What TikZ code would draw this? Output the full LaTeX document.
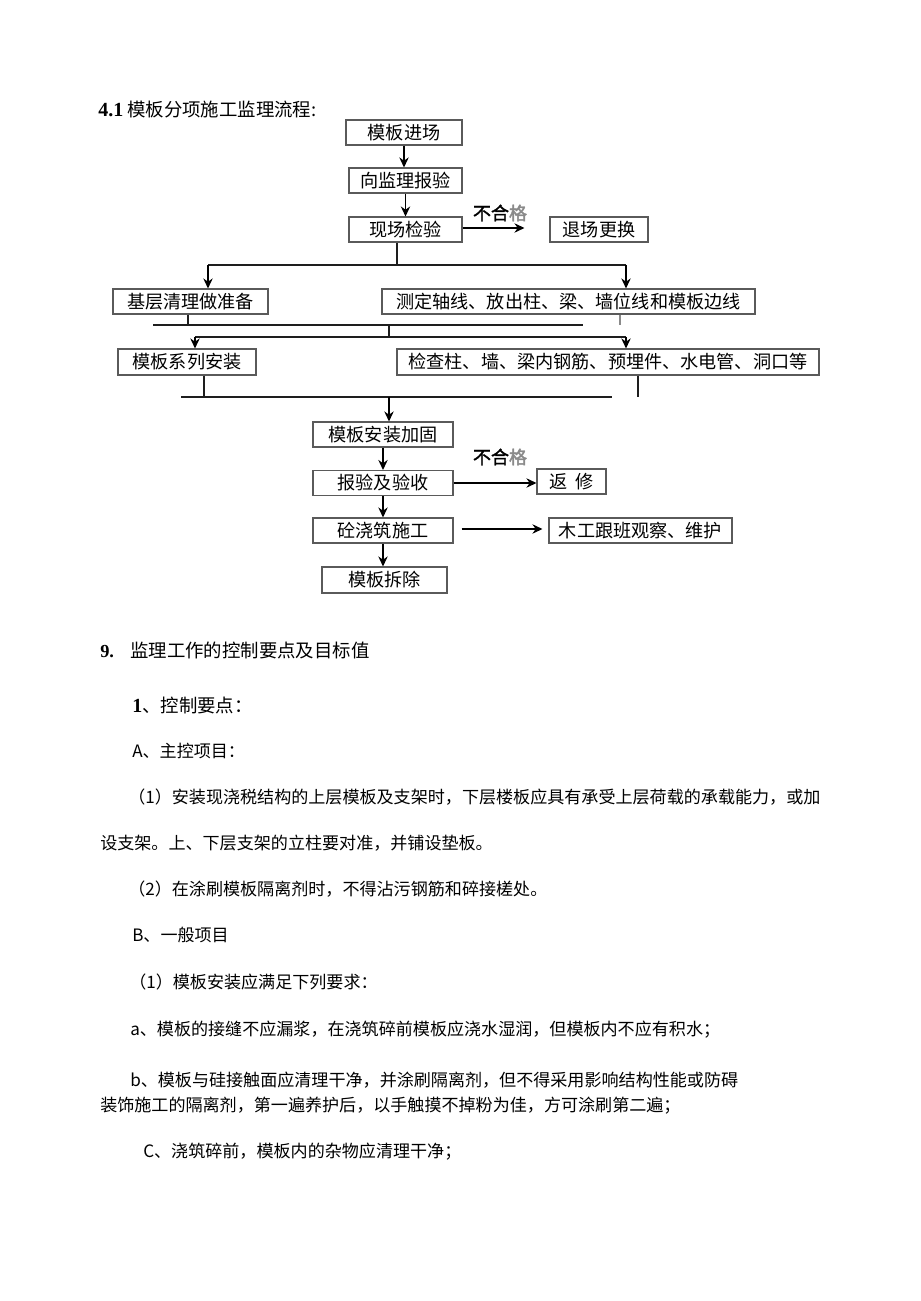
\documentclass[tikz,border=0pt]{standalone}
\usepackage{fontspec}
\setmainfont{Liberation Serif}
\newfontfamily\cjk{Noto Sans CJK SC}
\newfontfamily\cjkb[FakeBold=2]{Noto Sans CJK SC}
\usetikzlibrary{arrows.meta}
\definecolor{B1}{HTML}{5a5a5a}
\definecolor{L1}{HTML}{1e1e1e}
\definecolor{G1}{HTML}{8a8a8a}

\begin{document}
\begin{tikzpicture}[
	x = 0.75pt, y = -0.75pt,
	fbox/.style = {draw=B1, rectangle, align=center, inner sep=0pt, line width=0.8pt, minimum height=18.75pt, font=\cjk\fontsize{13.6}{16}\selectfont},
	line/.style = {draw=L1, line width=1.3pt},
	fail/.style = {inner sep=0pt, font=\cjkb\fontsize{13.5}{16}\selectfont},
	txt/.style = {anchor=west, inner sep=0pt, font=\cjk\fontsize{12.8}{15}\selectfont},
	head/.style = {anchor=west, inner sep=0pt, font=\cjk\fontsize{13.8}{16}\selectfont},
  every edge/.style={draw=black, -{Stealth[length=7.5pt, width=7pt]}, line width=1.4pt}
]
  \fill[white] (0, 0) rectangle (920, 1301);
  \useasboundingbox (0, 0) rectangle (920, 1301);

  % Define vertices
  \node[fbox, minimum width=87pt] at (404, 132.5) (jc) {模板进场};
  \node[fbox, minimum width=84.75pt] at (405.5, 180.5) (bj) {向监理报验};
  \node[fbox, minimum width=84.75pt] at (405.5, 229.5) (xc) {现场检验};
  \node[fbox, minimum width=73.5pt] at (599, 229.5) (tc) {退场更换};
  \node[fbox, minimum width=116.25pt] at (190.5, 301.5) (jq) {基层清理做准备};
  \node[fbox, minimum width=279.75pt] at (568.5, 301.5) (cd) {测定轴线、放出柱、梁、墙位线和模板边线};
  \node[fbox, minimum width=103.5pt, minimum height=19.5pt] at (187, 362) (az) {模板系列安装};
  \node[fbox, minimum width=316.5pt, minimum height=19.5pt] at (608, 362) (jcz) {检查柱、墙、梁内钢筋、预埋件、水电管、洞口等};
  \node[fbox, minimum width=105pt] at (383, 434.5) (jg) {模板安装加固};
  \node[fbox, minimum width=105pt] at (383, 483) (ys) {报验及验收};
  \node[fbox, minimum width=51.75pt] at (571.5, 481.5) (fx) {返\ \ 修};
  \node[fbox, minimum width=105pt] at (383, 530.5) (jz) {砼浇筑施工};
  \node[fbox, minimum width=137.25pt] at (640.5, 530.5) (mg) {木工跟班观察、维护};
  \node[fbox, minimum width=93.75pt, minimum height=19.5pt] at (384.5, 580) (cc) {模板拆除};

  \node[fail] at (500, 213) (ng1) {不合\textcolor{G1}{格}};
  \node[fail] at (500, 457) (ng2) {不合\textcolor{G1}{格}};

  % Joints
  \coordinate (b1) at (397, 265);
  \coordinate (b1l) at (208, 265);
  \coordinate (b1r) at (626, 265);
  \coordinate (j2) at (188, 325);
  \coordinate (h2l) at (153, 325);
  \coordinate (h2r) at (583, 325);
  \coordinate (d1) at (620, 325);
  \coordinate (m2) at (389, 325);
  \coordinate (m2b) at (389, 337);
  \coordinate (h3l) at (195, 337);
  \coordinate (h3r) at (626, 337);
  \coordinate (j3) at (204, 397);
  \coordinate (h4l) at (181, 397);
  \coordinate (h4r) at (612, 397);
  \coordinate (d2) at (638, 397);
  \coordinate (m4) at (389, 397);

  % Edges
  \draw (jc) edge (jc.south |- bj.north);
  \draw (bj) edge (bj.south |- xc.north);
  \draw ([yshift=1.125pt]xc.east) edge ([xshift=-18.75pt, yshift=1.125pt]xc.east -| tc.west);
  \draw[line] (b1 |- xc.south) -- (b1);
  \draw[line] (b1l) -- (b1r);
  \draw (b1l) edge (b1l |- jq.north);
  \draw (b1r) edge (b1r |- cd.north);
  \draw[line] (j2 |- jq.south) -- (j2);
  \draw[line, draw=G1] (d1 |- cd.south) -- (d1);
  \draw[line] (h2l) -- (h2r);
  \draw[line] (m2) -- (m2b);
  \draw[line] (h3l) -- (h3r);
  \draw (h3l) edge (h3l |- az.north);
  \draw (h3r) edge (h3r |- jcz.north);
  \draw[line] (j3 |- az.south) -- (j3);
  \draw[line] (d2 |- jcz.south) -- (d2);
  \draw[line] (h4l) -- (h4r);
  \draw (m4) edge (m4 |- jg.north);
  \draw (jg) edge (ys);
  \draw (ys) edge (jz);
  \draw (jz.south) edge (jz.south |- cc.north);
  \draw (ys.east) edge (ys.east -| fx.west);
  \draw ([xshift=6pt, yshift=1.125pt]jz.east) edge ([xshift=-4.5pt, yshift=1.125pt]jz.east -| mg.west);

  % Text
  \node[head] at (98, 110) (title) {{\rmfamily\bfseries\fontsize{15}{16}\selectfont 4.1} 模板分项施工监理流程:};
  \node[head] at (100, 650) (s9) {\makebox[22.5pt][l]{\rmfamily\bfseries 9.}监理工作的控制要点及目标值};
  \node[head] at (132, 705) (p1) {{\rmfamily\bfseries\fontsize{15}{16}\selectfont 1}、控制要点：};
  \node[txt] at (132, 751) (pa) {A、主控项目：};
  \node[txt] at (128, 797) (pa1) {（1）安装现浇税结构的上层模板及支架时，下层楼板应具有承受上层荷载的承载能力，或加};
  \node[txt] at (100, 843) (pa1b) {设支架。上、下层支架的立柱要对准，并铺设垫板。};
  \node[txt] at (128, 889) (pa2) {（2）在涂刷模板隔离剂时，不得沾污钢筋和碎接槎处。};
  \node[txt] at (132, 935) (pb) {B、一般项目};
  \node[txt] at (129, 982) (pb1) {（1）模板安装应满足下列要求：};
  \node[txt] at (130, 1030) (ia) {a、模板的接缝不应漏浆，在浇筑碎前模板应浇水湿润，但模板内不应有积水；};
  \node[txt] at (130, 1080) (ib) {b、模板与硅接触面应清理干净，并涂刷隔离剂，但不得采用影响结构性能或防碍};
  \node[txt] at (100, 1106) (ibb) {装饰施工的隔离剂，第一遍养护后，以手触摸不掉粉为佳，方可涂刷第二遍；};
  \node[txt] at (143, 1152) (ic) {C、浇筑碎前，模板内的杂物应清理干净；};
\end{tikzpicture}
\end{document}
